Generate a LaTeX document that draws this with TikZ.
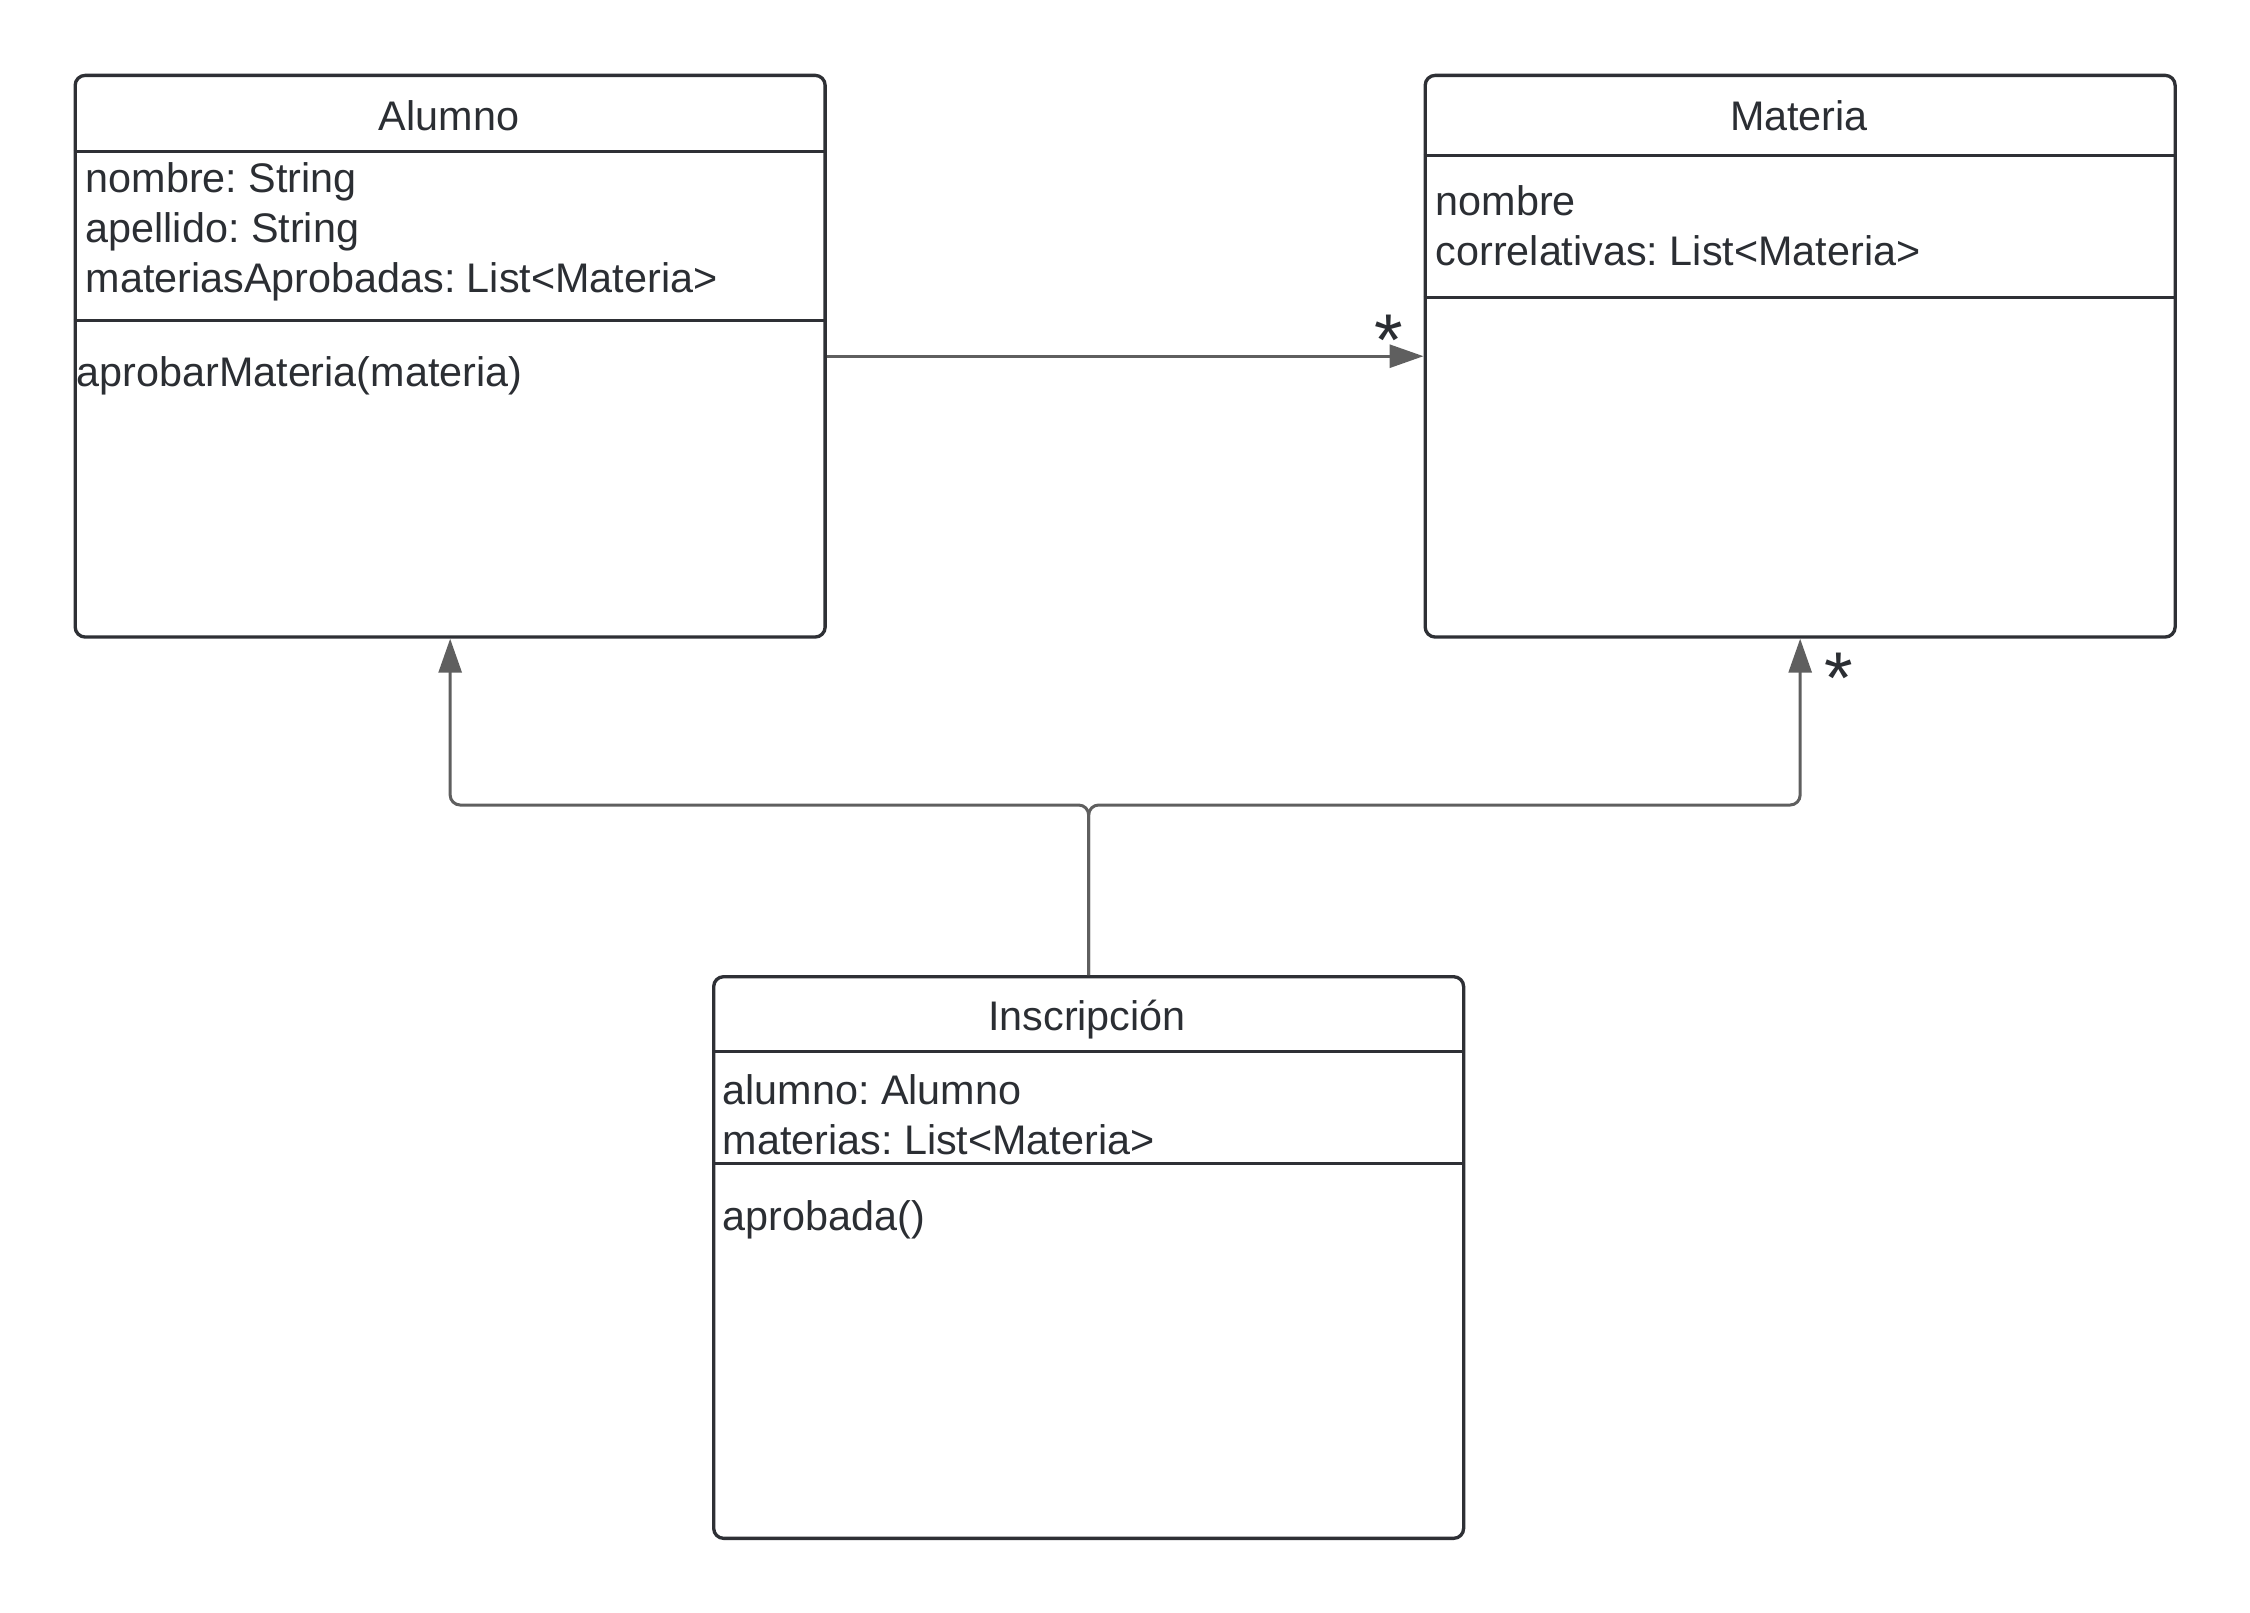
\documentclass[tikz,border=0pt]{standalone}
\usepackage{fontspec}
\setmainfont{Liberation Sans}
\frenchspacing
\usetikzlibrary{arrows.meta}
\definecolor{boxline}{HTML}{2E3035}
\definecolor{txt}{HTML}{2B2E33}
\definecolor{connc}{HTML}{5F5F5F}
\tikzset{
  classbox/.style={draw=boxline, line width=1pt, rounded corners=3pt, anchor=north west,
    minimum width=225pt, minimum height=168.5pt, inner sep=0pt, fill=white},
  sep/.style={draw=boxline, line width=0.9pt},
  lbl/.style={text=txt, font=\fontsize{12.4}{15}\selectfont, inner sep=0pt, anchor=base west},
  ttl/.style={text=txt, font=\fontsize{12.4}{15}\selectfont, inner sep=0pt, anchor=base},
  conn/.style={draw=connc, line width=0.9pt, -{Triangle[length=10.2pt,width=6.9pt]}},
  mult/.style={text=txt, font=\fontsize{22}{22}\selectfont, inner sep=0pt}
}
\begin{document}
\begin{tikzpicture}[x=0.3pt,y=-0.3pt]
\useasboundingbox (0,0) rectangle (2250,1613);
% boxes
\node[classbox] (alumno) at (73.5,73.7) {};
\node[classbox] (materia) at (1423.5,73.7) {};
\node[classbox] (insc) at (712,975) {};
% separators
\draw[sep] (alumno.west |- 0,151) -- (alumno.east |- 0,151);
\draw[sep] (alumno.west |- 0,320) -- (alumno.east |- 0,320);
\draw[sep] (materia.west |- 0,155) -- (materia.east |- 0,155);
\draw[sep] (materia.west |- 0,297) -- (materia.east |- 0,297);
\draw[sep] (insc.west |- 0,1051) -- (insc.east |- 0,1051);
\draw[sep] (insc.west |- 0,1163) -- (insc.east |- 0,1163);
% Alumno texts
\node[ttl] (alumnoT) at (449,130) {Alumno};
\node[lbl] (a1) at (85,192) {nombre: String};
\node[lbl] (a2) at (85,242) {apellido: String};
\node[lbl] (a3) at (85,292) {materiasAprobadas: List<Materia>};
\node[lbl] (a4) at (76,386) {aprobarMateria(materia)};
% Materia texts
\node[ttl] (materiaT) at (1799,130) {Materia};
\node[lbl] (m1) at (1435,215) {nombre};
\node[lbl] (m2) at (1435,265) {correlativas: List<Materia>};
% Inscripcion texts
\node[ttl] (inscT) at (1087,1030) {Inscripción};
\node[lbl] (i1) at (722,1104) {alumno: Alumno};
\node[lbl] (i2) at (722,1154) {materias: List<Materia>};
\node[lbl] (i3) at (722,1230) {aprobada()};
% connectors
\draw[conn] (alumno.east) -- (materia.west);
\node[mult] (star1) at (1389,340) {*};
\draw[conn, rounded corners=3pt] (insc.north) -- (insc.north |- 0,805) -| (alumno.south);
\draw[conn, rounded corners=3pt] (insc.north) -- (insc.north |- 0,805) -| (materia.south);
\node[mult] (star2) at (1839,678) {*};
\end{tikzpicture}
\end{document}
